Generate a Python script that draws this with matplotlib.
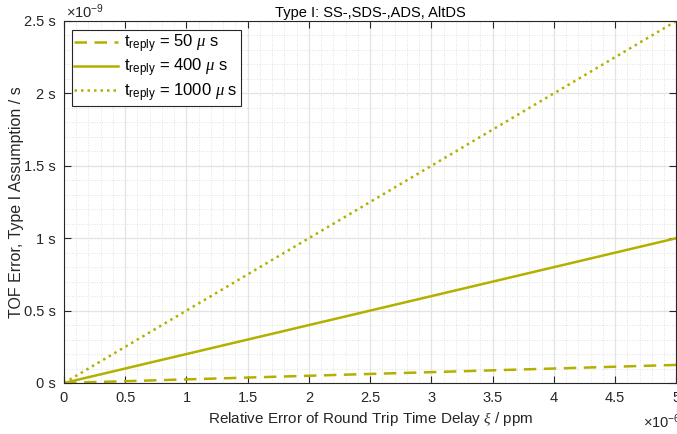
import numpy as np
import matplotlib
matplotlib.use("Agg")
import matplotlib.pyplot as plt
from matplotlib.ticker import MultipleLocator, FuncFormatter

plt.rcParams['font.family'] = ['Liberation Sans', 'DejaVu Sans']
plt.rcParams['mathtext.fontset'] = 'custom'
plt.rcParams['mathtext.rm'] = 'Liberation Sans'
plt.rcParams['mathtext.it'] = 'Liberation Serif:italic'

# Relative error of round trip time delay (ppm -> absolute)
xi = [0.0, 5e-6]
# TOF error (s) for each reply time
err_50 = [0.0, 0.125e-9]
err_400 = [0.0, 1.0e-9]
err_1000 = [0.0, 2.5e-9]
labels = [r'$\mathregular{t_{reply}}$ = 50 $\mu$ s',
          r'$\mathregular{t_{reply}}$ = 400 $\mu$ s',
          r'$\mathregular{t_{reply}}$ = 1000 $\mu$ s']

col = '#b3b000'
txt = '#262626'

fig = plt.figure(figsize=(6.77, 4.34), dpi=100)
ax = fig.add_axes([64/677, 1 - 383/434, 613/677 - 0.001, (383 - 21)/434])

ax.plot(xi, err_50, color=col, lw=1.8, ls=(0, (5, 3)), label=labels[0])
ax.plot(xi, err_400, color=col, lw=1.8, ls='-', label=labels[1])
ax.plot(xi, err_1000, color=col, lw=1.8, ls=(0, (1, 1.6)), label=labels[2])

ax.set_xlim(0, 5e-6)
ax.set_ylim(0, 2.5e-9)
ax.xaxis.set_major_locator(MultipleLocator(0.5e-6))
ax.xaxis.set_minor_locator(MultipleLocator(0.1e-6))
ax.yaxis.set_major_locator(MultipleLocator(0.5e-9))
ax.yaxis.set_minor_locator(MultipleLocator(0.1e-9))
ax.xaxis.set_major_formatter(FuncFormatter(lambda v, p: f'{v*1e6:g}'))
ax.yaxis.set_major_formatter(FuncFormatter(lambda v, p: f'{v*1e9:g} s'))

ax.grid(which='major', color='#e3e3e3', lw=0.9, ls='-')
ax.grid(which='minor', color='#d8d8d8', lw=0.6, ls=(0, (1, 2)))
ax.set_axisbelow(True)
ax.tick_params(which='major', direction='in', length=5, width=0.8, color=txt,
               top=True, right=True, labelsize=10.5, labelcolor=txt, pad=6)
ax.tick_params(which='minor', length=0, top=True, right=True)
for s in ax.spines.values():
    s.set_color(txt)
    s.set_linewidth(0.8)

ax.set_title('Type I: SS-,SDS-,ADS, AltDS', fontsize=10.5, color='black', pad=3)
ax.set_xlabel(r'Relative Error of Round Trip Time Delay $\xi$ / ppm', fontsize=11, color=txt, labelpad=3)
ax.set_ylabel('TOF Error, Type I Assumption / s', fontsize=11.5, color=txt, labelpad=0)

fig.text(66/677, 1 - 12/434, r'$\times\mathregular{10^{-9}}$', fontsize=10.5, color=txt, va='center', ha='left')
fig.text(643/677, 1 - 422/434, r'$\times\mathregular{10^{-6}}$', fontsize=10.5, color=txt, va='center', ha='left')

leg = ax.legend(loc='upper left', fontsize=12, frameon=True, fancybox=False,
                edgecolor='#262626', framealpha=1, handlelength=2.6, handletextpad=0.4,
                borderpad=0.15, labelspacing=0.1, borderaxespad=0,
                bbox_to_anchor=(8/613, 1 - 9/362))
leg.get_frame().set_linewidth(0.8)

fig.savefig('out.png', dpi=100)
